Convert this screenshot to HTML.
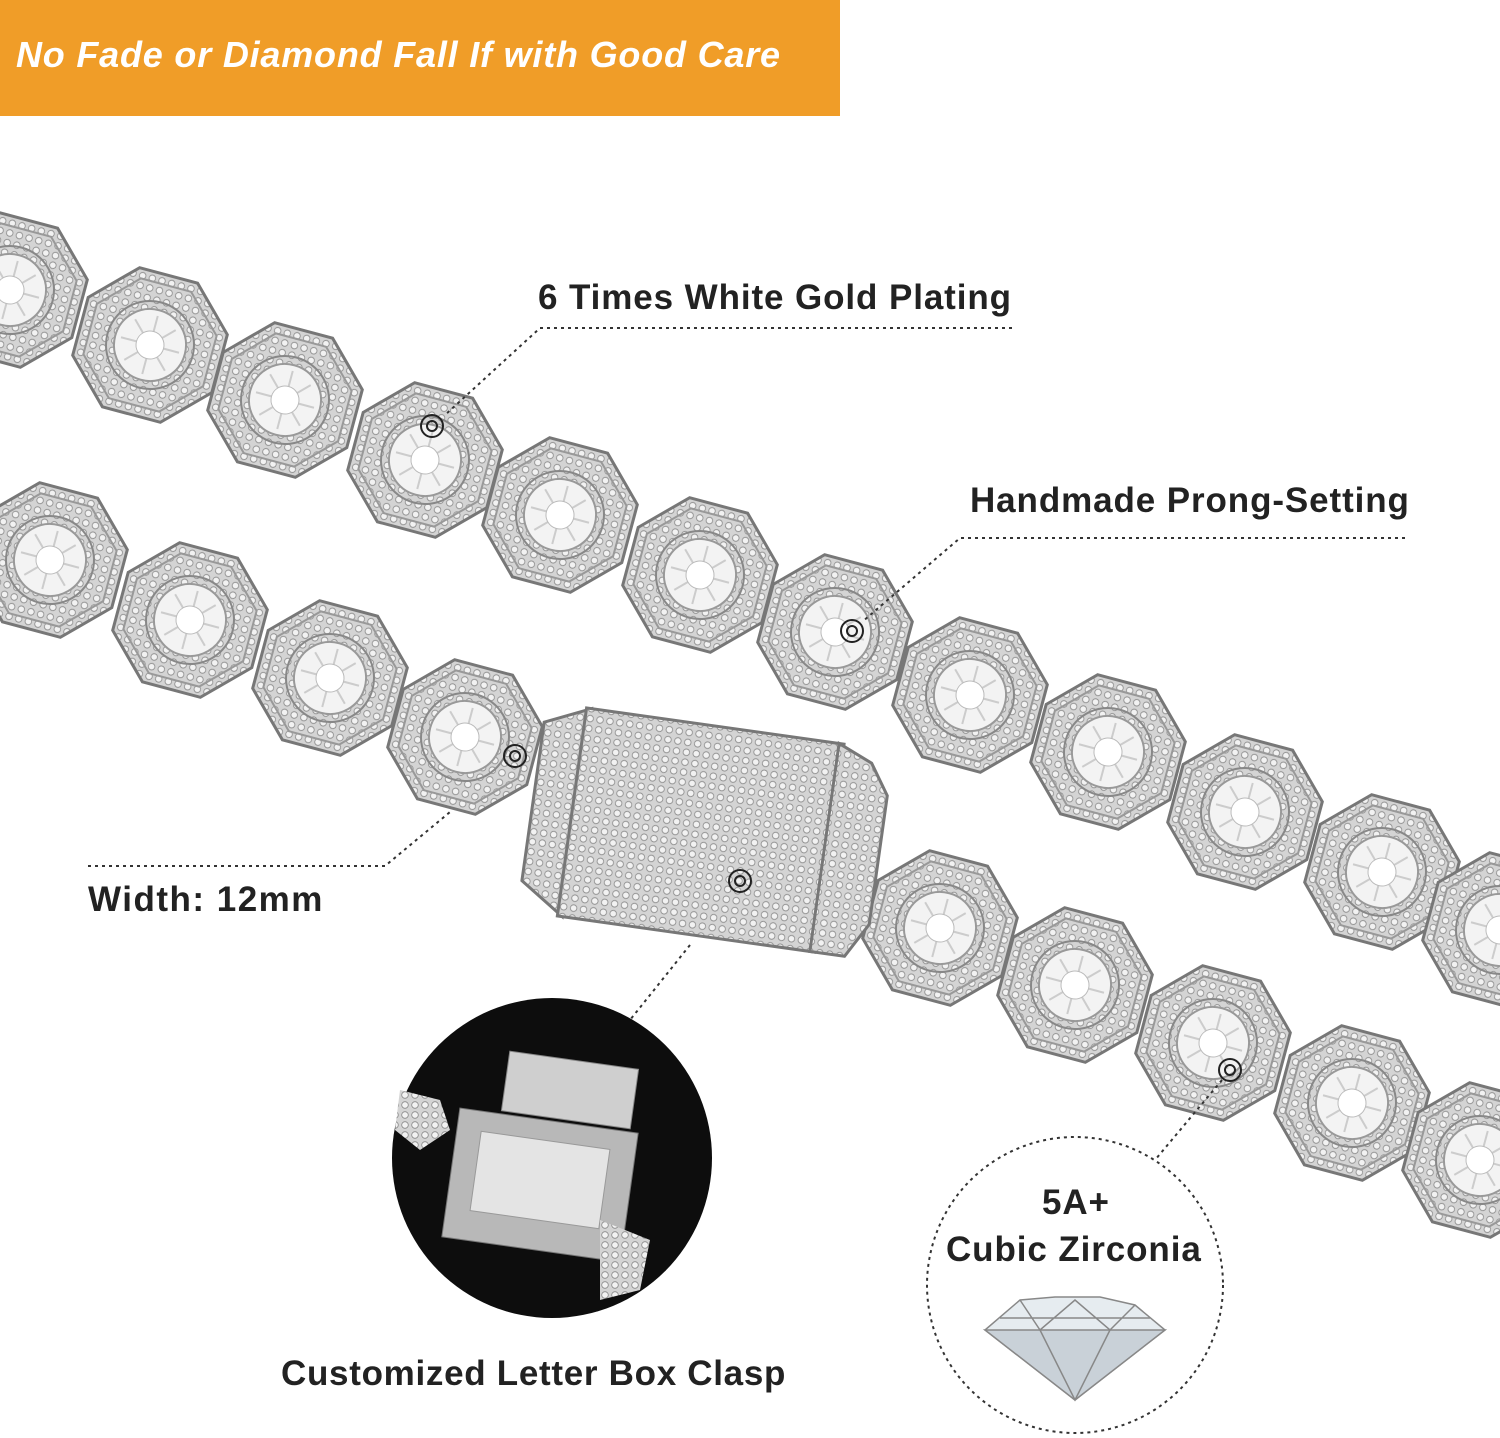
<!DOCTYPE html>
<html><head><meta charset="utf-8"><style>
html,body{margin:0;padding:0;background:#fff;}
body{width:1500px;height:1438px;position:relative;overflow:hidden;font-family:"Liberation Sans",sans-serif;}
.t{position:absolute;font-weight:bold;color:#222;white-space:nowrap;letter-spacing:0.9px;}
</style></head><body>
<svg width="1500" height="1438" style="position:absolute;left:0;top:0">
<defs>
<pattern id="pv" width="10" height="10" patternUnits="userSpaceOnUse">
<rect width="10" height="10" fill="#d4d4d4"/><circle cx="5" cy="5" r="3.3" fill="#f2f2f2" stroke="#8a8a8a" stroke-width="0.8"/>
</pattern>
<g id="L">
<polygon points="-72,-30 -30,-72 30,-72 72,-30 72,30 30,72 -30,72 -72,30" fill="url(#pv)" stroke="#777" stroke-width="3"/>
<polygon points="-62,-26 -26,-62 26,-62 62,-26 62,26 26,62 -26,62 -62,26" fill="none" stroke="#999" stroke-width="2"/>
<circle r="44" fill="url(#pv)" stroke="#888" stroke-width="2"/>
<circle r="36" fill="#f3f3f3" stroke="#999" stroke-width="2"/>
<path d="M-30,0 L30,0 M0,-30 L0,30 M-21,-21 L21,21 M21,-21 L-21,21" stroke="#ccc" stroke-width="2"/>
<circle r="14" fill="#fff" stroke="#bbb"/>
</g>
</defs>
<rect x="0" y="0" width="840" height="116" fill="#f09d28"/>
<g>
<use href="#L" x="10" y="290" transform="rotate(15 10 290)"/>
<use href="#L" x="150" y="345" transform="rotate(15 150 345)"/>
<use href="#L" x="285" y="400" transform="rotate(15 285 400)"/>
<use href="#L" x="425" y="460" transform="rotate(15 425 460)"/>
<use href="#L" x="560" y="515" transform="rotate(15 560 515)"/>
<use href="#L" x="700" y="575" transform="rotate(15 700 575)"/>
<use href="#L" x="835" y="632" transform="rotate(15 835 632)"/>
<use href="#L" x="970" y="695" transform="rotate(15 970 695)"/>
<use href="#L" x="1108" y="752" transform="rotate(15 1108 752)"/>
<use href="#L" x="1245" y="812" transform="rotate(15 1245 812)"/>
<use href="#L" x="1382" y="872" transform="rotate(15 1382 872)"/>
<use href="#L" x="1500" y="930" transform="rotate(15 1500 930)"/>
</g>
<g>
<use href="#L" x="50" y="560" transform="rotate(15 50 560)"/>
<use href="#L" x="190" y="620" transform="rotate(15 190 620)"/>
<use href="#L" x="330" y="678" transform="rotate(15 330 678)"/>
<use href="#L" x="465" y="737" transform="rotate(15 465 737)"/>
<use href="#L" x="940" y="928" transform="rotate(15 940 928)"/>
<use href="#L" x="1075" y="985" transform="rotate(15 1075 985)"/>
<use href="#L" x="1213" y="1043" transform="rotate(15 1213 1043)"/>
<use href="#L" x="1352" y="1103" transform="rotate(15 1352 1103)"/>
<use href="#L" x="1480" y="1160" transform="rotate(15 1480 1160)"/>
</g>
<g transform="rotate(8 700 835)">
<rect x="625" y="880" width="90" height="50" fill="url(#pv)" stroke="#777" stroke-width="2"/>
<polygon points="530,745 575,725 575,935 530,905" fill="url(#pv)" stroke="#777" stroke-width="3"/>
<rect x="570" y="725" width="260" height="210" fill="url(#pv)" stroke="#777" stroke-width="3"/>
<polygon points="825,725 860,740 880,770 880,900 860,935 825,935" fill="url(#pv)" stroke="#777" stroke-width="3"/>
</g>
<g fill="none" stroke="#222" stroke-width="2">
<circle cx="432" cy="426" r="11"/><circle cx="432" cy="426" r="5"/>
<circle cx="852" cy="631" r="11"/><circle cx="852" cy="631" r="5"/>
<circle cx="515" cy="756" r="11"/><circle cx="515" cy="756" r="5"/>
<circle cx="740" cy="881" r="11"/><circle cx="740" cy="881" r="5"/>
<circle cx="1230" cy="1070" r="11"/><circle cx="1230" cy="1070" r="5"/>
</g>
<g fill="none" stroke="#333" stroke-width="2" stroke-dasharray="3,4">
<polyline points="1012,328 540,328 445,415"/>
<polyline points="1405,538 960,538 862,622"/>
<polyline points="88,866 385,866 450,812"/>
<line x1="690" y1="945" x2="630" y2="1020"/>
<line x1="1222" y1="1080" x2="1155" y2="1160"/>
<circle cx="1075" cy="1285" r="148"/>
</g>
<circle cx="552" cy="1158" r="160" fill="#0d0d0d"/>
<g>
<rect x="505" y="1060" width="130" height="60" fill="#cfcfcf" stroke="#888" transform="rotate(8 570 1090)"/>
<rect x="450" y="1120" width="180" height="130" fill="#b8b8b8" stroke="#777" transform="rotate(8 540 1185)"/>
<rect x="475" y="1140" width="130" height="80" fill="#e4e4e4" stroke="#999" transform="rotate(8 540 1180)"/>
<polygon points="400,1090 440,1100 450,1130 420,1150 395,1130" fill="url(#pv)"/>
<polygon points="600,1220 650,1240 640,1290 600,1300" fill="url(#pv)"/>
</g>
<g stroke="#888" stroke-width="1.5">
<polygon points="1020,1300 1055,1297 1100,1297 1135,1305 1165,1330 1075,1400 985,1330" fill="#e6ecf0"/>
<polygon points="985,1330 1165,1330 1075,1400" fill="#c9d1d8"/>
<path d="M1020,1300 L1040,1330 L1075,1300 L1110,1330 L1135,1305 M1040,1330 L1075,1400 L1110,1330 M1000,1318 L1150,1318" fill="none"/>
</g>
</svg>
<div class="t" style="left:16px;top:34px;font-size:36px;color:#fff;font-style:italic;letter-spacing:0.8px;">No Fade or Diamond Fall If with Good Care</div>
<div class="t" style="left:538px;top:278px;font-size:35px;">6 Times White Gold Plating</div>
<div class="t" style="left:970px;top:481px;font-size:35px;">Handmade Prong-Setting</div>
<div class="t" style="left:88px;top:880px;font-size:35px;letter-spacing:1.5px;">Width: 12mm</div>
<div class="t" style="left:281px;top:1354px;font-size:35px;letter-spacing:0.7px;">Customized Letter Box Clasp</div>
<div class="t" style="left:1042px;top:1183px;font-size:35px;">5A+</div>
<div class="t" style="left:946px;top:1230px;font-size:35px;">Cubic Zirconia</div>
</body></html>
